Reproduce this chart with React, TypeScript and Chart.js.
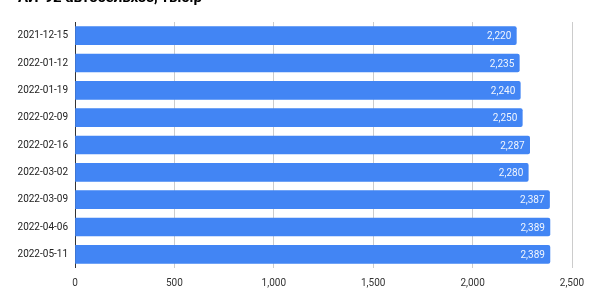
import React, { useEffect, useRef } from "react";
import { Chart, registerables } from "chart.js";

Chart.register(...registerables);

const TITLE = "АИ-92 автосельхоз, тыс.р";
const categories = [
  "2021-12-15",
  "2022-01-12",
  "2022-01-19",
  "2022-02-09",
  "2022-02-16",
  "2022-03-02",
  "2022-03-09",
  "2022-04-06",
  "2022-05-11",
];
const values = [2220, 2235, 2240, 2250, 2287, 2280, 2387, 2389, 2389];
const xMin = 0;
const xMax = 2500;
const xStep = 500;

const FONT = "Roboto, 'Liberation Sans', Arial, sans-serif";

const titlePlugin = {
  id: "cutTitle",
  afterDraw(chart: any) {
    const ctx = chart.ctx;
    ctx.save();
    ctx.font = `bold 15px ${FONT}`;
    ctx.fillStyle = "#000000";
    ctx.textAlign = "left";
    ctx.textBaseline = "alphabetic";
    ctx.fillText(TITLE, 18, 2);
    ctx.restore();
  },
};

const valueLabelPlugin = {
  id: "valueLabels",
  afterDatasetsDraw(chart: any) {
    const ctx = chart.ctx;
    const meta = chart.getDatasetMeta(0);
    ctx.save();
    ctx.font = `10px ${FONT}`;
    ctx.fillStyle = "rgba(255,255,255,0.92)";
    ctx.textAlign = "right";
    ctx.textBaseline = "middle";
    meta.data.forEach((bar: any, i: number) => {
      const v = values[i];
      ctx.fillText(v.toLocaleString("en-US"), bar.x - 5, bar.y + 1);
    });
    ctx.restore();
  },
};

export default function App() {
  const ref = useRef<HTMLCanvasElement | null>(null);
  useEffect(() => {
    if (!ref.current) return;
    const chart = new Chart(ref.current, {
      type: "bar",
      data: {
        labels: categories,
        datasets: [
          {
            data: values,
            backgroundColor: "#4285F4",
            borderRadius: 2,
            borderSkipped: "start",
            barThickness: 18,
          },
        ],
      },
      options: {
        indexAxis: "y",
        animation: false,
        responsive: false,
        locale: "en-US",
        layout: { padding: { top: 22, right: 18, bottom: 0, left: 0 } },
        plugins: {
          legend: { display: false },
          tooltip: { enabled: false },
          title: { display: false },
        },
        scales: {
          x: {
            min: xMin,
            max: xMax,
            ticks: {
              stepSize: xStep,
              color: "#333333",
              font: { family: FONT, size: 10 },
              padding: 9,
              maxRotation: 0,
            },
            grid: {
              color: (c: any) => (c.tick && c.tick.value === 0 ? "#333333" : "#cccccc"),
              drawTicks: false,
              lineWidth: 1,
            },
            border: { display: false },
            afterFit: (s: any) => {
              s.height = 32;
              s.paddingRight = 0;
              s.paddingLeft = 0;
            },
          },
          y: {
            ticks: {
              color: "#222222",
              font: { family: FONT, size: 10 },
              padding: 7,
            },
            grid: { display: false, drawTicks: false },
            border: { display: false },
            afterFit: (s: any) => {
              s.width = 75;
            },
          },
        },
      },
      plugins: [valueLabelPlugin, titlePlugin],
    } as any);
    return () => chart.destroy();
  }, []);
  return (
    <div style={{ position: "absolute", left: 0, top: 0, width: 590, height: 300, background: "#fff" }}>
      <canvas ref={ref} width={590} height={300} style={{ width: 590, height: 300 }} />
    </div>
  );
}
